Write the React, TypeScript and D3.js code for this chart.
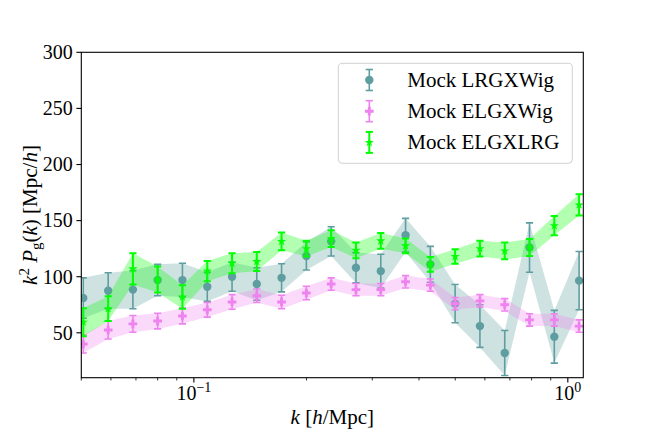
import React from "react";
import * as d3 from "d3";

const kValues = [0.0506, 0.059, 0.0687, 0.08, 0.0932, 0.1086, 0.1265, 0.1473, 0.1716, 0.1999, 0.2329, 0.2713, 0.3161, 0.3682, 0.4289, 0.4996, 0.5821, 0.6781, 0.7899, 0.9202, 1.072];

const lrgWig = [81, 87.5, 88.5, 97, 97, 91, 100, 93.5, 99, 118.5, 131.5, 108, 105, 137, 111, 76, 56, 32, 126, 46.5, 96.5];
const lrgWigErr = [18, 16, 17, 14, 15, 13, 13, 14.5, 12.5, 12.5, 13, 13.5, 15, 15, 16, 17, 19, 20, 22, 23.5, 26];

const elgWig = [40, 52.5, 58, 60.5, 65, 70.5, 77.5, 83, 77.5, 85.5, 93.5, 88.5, 88.5, 95.5, 92.5, 76, 78.5, 75, 61.5, 61.5, 56];
const elgWigErr = [8, 8, 7.5, 7, 7, 6.5, 6.5, 6, 6, 6, 5.5, 5.5, 5.5, 5.5, 5.5, 5.5, 5.5, 5.5, 5.5, 5.5, 5.5];

const elgLrg = [59.5, 71.5, 107, 97.5, 82, 105, 112, 113.5, 131.5, 125, 134, 123.5, 132, 127.5, 111, 118, 125, 123, 126, 145.5, 164];
const elgLrgErr = [12.5, 11, 14, 11.5, 10.5, 9, 9, 8.5, 8, 7, 7.5, 7, 7, 6.5, 6.5, 6.5, 7, 7.5, 7.5, 8.5, 9.5];

const seriesNames = ["Mock LRGXWig", "Mock ELGXWig", "Mock ELGXLRG"];
const yTicks = [50, 100, 150, 200, 250, 300];
const xMajorTicks = [0.1, 1];
const xMinorTicks = [0.05, 0.06, 0.07, 0.08, 0.09, 0.2, 0.3, 0.4, 0.5, 0.6, 0.7, 0.8, 0.9];

const FONT = "'Liberation Serif', 'DejaVu Serif', serif";

const L = 81.3, R = 583.3, T = 52.3, B = 377.7;

export default function App() {
  const x = d3.scaleLog().domain([0.05, 1.1]).range([L, R]);
  const y = d3.scaleLinear().domain([10, 300]).range([B, T]);

  const series = [
    { name: seriesNames[0], vals: lrgWig, errs: lrgWigErr, color: "#5f9ea0", symbol: "circle", lw: 1.6 },
    { name: seriesNames[1], vals: elgWig, errs: elgWigErr, color: "#ee82ee", symbol: "cross", lw: 1.6 },
    { name: seriesNames[2], vals: elgLrg, errs: elgLrgErr, color: "#00ff00", symbol: "star", lw: 2 },
  ];

  const markerPath = (s: string) => {
    if (s === "cross") return d3.symbol().type(d3.symbolCross).size(42)() as string;
    if (s === "star") return d3.symbol().type(d3.symbolStar).size(26)() as string;
    return "";
  };

  const drawMarker = (s: string, cx: number, cy: number, color: string, key: string) =>
    s === "circle" ? (
      <circle key={key} cx={cx} cy={cy} r={4.2} fill={color} />
    ) : (
      <path key={key} d={markerPath(s)} transform={`translate(${cx},${cy})`} fill={color} />
    );

  const cap = 3.6;

  return (
    <svg width={648} height={432} style={{ position: "absolute", left: 0, top: 0, background: "#fff" }} fontFamily={FONT}>
      <defs>
        <clipPath id="plotclip">
          <rect x={L} y={T} width={R - L} height={B - T} />
        </clipPath>
      </defs>
      <g clipPath="url(#plotclip)">
        {series.map((s, si) => {
          const data = kValues.map((k, i) => ({ k, v: s.vals[i], e: s.errs[i] }));
          const area = d3
            .area<{ k: number; v: number; e: number }>()
            .x((d) => x(d.k))
            .y0((d) => y(d.v - d.e))
            .y1((d) => y(d.v + d.e));
          return (
            <g key={si}>
              <path d={area(data) as string} fill={s.color} fillOpacity={0.3} stroke="none" />
              {data.map((d, i) => {
                const cx = x(d.k);
                const y0 = y(d.v - d.e);
                const y1 = y(d.v + d.e);
                return (
                  <g key={i} stroke={s.color} strokeWidth={s.lw}>
                    <line x1={cx} x2={cx} y1={y0} y2={y1} />
                    <line x1={cx - cap} x2={cx + cap} y1={y0} y2={y0} />
                    <line x1={cx - cap} x2={cx + cap} y1={y1} y2={y1} />
                  </g>
                );
              })}
              {data.map((d, i) => drawMarker(s.symbol, x(d.k), y(d.v), s.color, `m${i}`))}
            </g>
          );
        })}
      </g>

      {/* axes frame */}
      <rect x={L} y={T} width={R - L} height={B - T} fill="none" stroke="#000" strokeWidth={1.1} />

      {/* y ticks */}
      {yTicks.map((t) => (
        <g key={t}>
          <line x1={L - 4.9} x2={L} y1={y(t)} y2={y(t)} stroke="#000" strokeWidth={1.1} />
          <text x={L - 8.5} y={y(t)} dy="0.34em" textAnchor="end" fontSize={20} fill="#000">
            {t}
          </text>
        </g>
      ))}

      {/* x ticks */}
      {xMajorTicks.map((t) => (
        <g key={t}>
          <line x1={x(t)} x2={x(t)} y1={B} y2={B + 4.9} stroke="#000" strokeWidth={1.1} />
          <text x={x(t)} y={400} textAnchor="middle" fontSize={20} fill="#000">
            10
            <tspan dy={-8.5} fontSize={14}>
              {t === 1 ? "0" : "\u22121"}
            </tspan>
          </text>
        </g>
      ))}
      {xMinorTicks.map((t) => (
        <line key={t} x1={x(t)} x2={x(t)} y1={B} y2={B + 2.8} stroke="#000" strokeWidth={0.8} />
      ))}

      {/* x label */}
      <text x={(L + R) / 2} y={424} textAnchor="middle" fontSize={21} fill="#000">
        <tspan fontStyle="italic">k</tspan> [<tspan fontStyle="italic">h</tspan>/Mpc]
      </text>

      {/* y label */}
      <text transform={`translate(37,${(T + B) / 2}) rotate(-90)`} textAnchor="middle" fontSize={21} fill="#000">
        <tspan fontStyle="italic">k</tspan>
        <tspan dy={-8} fontSize={15}>2</tspan>
        <tspan dy={8} fontStyle="italic"> P</tspan>
        <tspan dy={4} fontSize={15}>g</tspan>
        <tspan dy={-4}>(</tspan>
        <tspan fontStyle="italic">k</tspan>
        <tspan>) [Mpc/</tspan>
        <tspan fontStyle="italic">h</tspan>
        <tspan>]</tspan>
      </text>

      {/* legend */}
      <rect x={338.3} y={63.3} width={234} height={100} rx={4} fill="#fff" fillOpacity={0.8} stroke="#d0d0d0" strokeWidth={1} />
      {series.map((s, i) => {
        const cy = 80 + i * 31.2;
        const cx = 369.3;
        return (
          <g key={s.name}>
            <g stroke={s.color} strokeWidth={s.lw}>
              <line x1={cx} x2={cx} y1={cy - 10.5} y2={cy + 10.5} />
              <line x1={cx - cap} x2={cx + cap} y1={cy - 10.5} y2={cy - 10.5} />
              <line x1={cx - cap} x2={cx + cap} y1={cy + 10.5} y2={cy + 10.5} />
            </g>
            {drawMarker(s.symbol, cx, cy, s.color, "lm")}
            <text x={407.3} y={cy + 6.8} fontSize={21} fill="#000">
              {s.name}
            </text>
          </g>
        );
      })}
    </svg>
  );
}
